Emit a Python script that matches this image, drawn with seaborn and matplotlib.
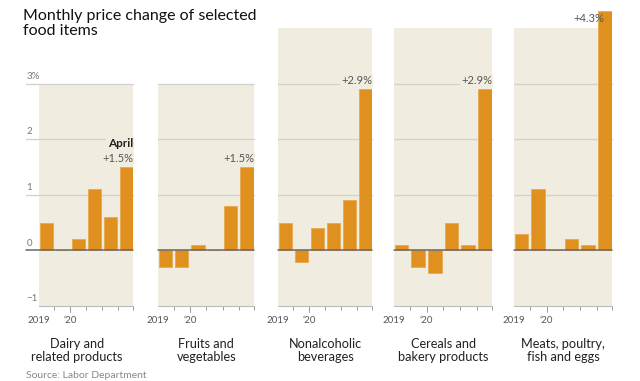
import matplotlib.pyplot as plt
import seaborn as sns
import pandas as pd

months = ['Nov', 'Dec', 'Jan', 'Feb', 'Mar', 'Apr']
categories = ['Dairy and\nrelated products', 'Fruits and\nvegetables', 'Nonalcoholic\nbeverages',
              'Cereals and\nbakery products', 'Meats, poultry,\nfish and eggs']
dairy = [0.5, 0.0, 0.2, 1.1, 0.6, 1.5]
fruits = [-0.3, -0.3, 0.1, 0.0, 0.8, 1.5]
nonalc = [0.5, -0.2, 0.4, 0.5, 0.9, 2.9]
cereals = [0.1, -0.3, -0.4, 0.5, 0.1, 2.9]
meats = [0.3, 1.1, 0.0, 0.2, 0.1, 4.3]
series = [dairy, fruits, nonalc, cereals, meats]
last_labels = ['+1.5%', '+1.5%', '+2.9%', '+2.9%', '+4.3%']
yticks = [-1, 0, 1, 2, 3]
ytick_labels = ['\u22121', '0', '1', '2', '3%']

sns.set_theme(style='white')
plt.rcParams['font.family'] = ['Lato', 'DejaVu Sans']

BEIGE = '#f0ede0'
ORANGE = '#e0901e'
GRID = '#d3d2cc'

W, H = 640, 381
fig = plt.figure(figsize=(6.4, 3.81), dpi=100)

# panel extents in pixels (left, right) and top of beige area in data units
panels = [(39, 133, 3), (158, 254, 3), (278, 372, 4), (394, 492, 4), (514, 612, 4)]
ybot_px, ytop_px = 306, 11.4
ymin, ymax = -1, 4.3

for i, (x0, x1, top) in enumerate(panels):
    ax = fig.add_axes([x0 / W, 1 - ybot_px / H, (x1 - x0) / W, (ybot_px - ytop_px) / H])
    ax.set_facecolor('none')
    ax.axhspan(-1, top, color=BEIGE, zorder=0, lw=0)
    ext = -13 / (x1 - x0) if i == 0 else 0
    for g in [1, 2, 3]:
        ax.axhline(g, xmin=ext, xmax=1, color=GRID, lw=1, zorder=1, clip_on=False)
    df = pd.DataFrame({'month': months, 'change': series[i]})
    sns.barplot(data=df, x='month', y='change', ax=ax, color=ORANGE, saturation=1,
                width=0.82, edgecolor='#e8a94e', linewidth=0.6, zorder=2)
    ax.axhline(0, xmin=ext, xmax=1, color='#666666', lw=1.1, zorder=3, clip_on=False)
    ax.set_xlim(-0.45, 5.42)
    ax.set_ylim(ymin, ymax)
    ax.set_xlabel('')
    ax.set_ylabel('')
    for s in ['top', 'right', 'left']:
        ax.spines[s].set_visible(False)
    ax.spines['bottom'].set_position(('data', -1))
    ax.spines['bottom'].set_color('#bbbbbb')
    ax.spines['bottom'].set_linewidth(0.8)
    ax.set_yticks([])
    ax.set_xticks([0.5, 1.5, 2.5, 3.5, 4.5, 5.42])
    ax.set_xticklabels([])
    ax.tick_params(axis='x', bottom=True, length=3, color='#999999', width=0.7, pad=0)
    ax.plot([1.5, 1.5], [-1, -1.1], color='#999999', lw=0.7, clip_on=False)
    ax.text(-0.45, -1.18, '2019', ha='center', va='top', fontsize=7, color='#555555')
    ax.text(1.5, -1.18, "\u201820", ha='center', va='top', fontsize=7, color='#555555')
    cx = 1.9 if i == 0 else 2.5
    ax.text(cx, -1.58, categories[i], ha='center', va='top', fontsize=9.2,
            color='#222222', linespacing=1.1)
    # value label for last bar
    v = series[i][-1]
    if i == 4:
        ax.text(4.97, v - 0.12, last_labels[i], ha='right', va='center', fontsize=8, color='#555555')
    else:
        ax.text(5.42, v + 0.06, last_labels[i], ha='right', va='bottom', fontsize=8, color='#555555',
                bbox=dict(boxstyle='square,pad=0.12', fc=BEIGE, ec='none'), zorder=4)
    if i == 0:
        ax.text(5.42, v + 0.32, 'April', ha='right', va='bottom', fontsize=8.5, color='#222222',
                fontweight='bold', bbox=dict(boxstyle='square,pad=0.12', fc=BEIGE, ec='none'), zorder=4)
        for t, lab in zip(yticks, ytick_labels):
            ax.text(-1.24, t + 0.05, lab, ha='left', va='bottom', fontsize=7, color='#777777')

fig.text(23 / W, 1 - 9 / H, 'Monthly price change of selected\nfood items', ha='left', va='top',
         fontsize=11.5, color='#111111', linespacing=1.1)
fig.text(26 / W, 1 - 376 / H, 'Source: Labor Department', ha='left', va='center',
         fontsize=7.5, color='#888888')

fig.savefig('out.png', dpi=100)
